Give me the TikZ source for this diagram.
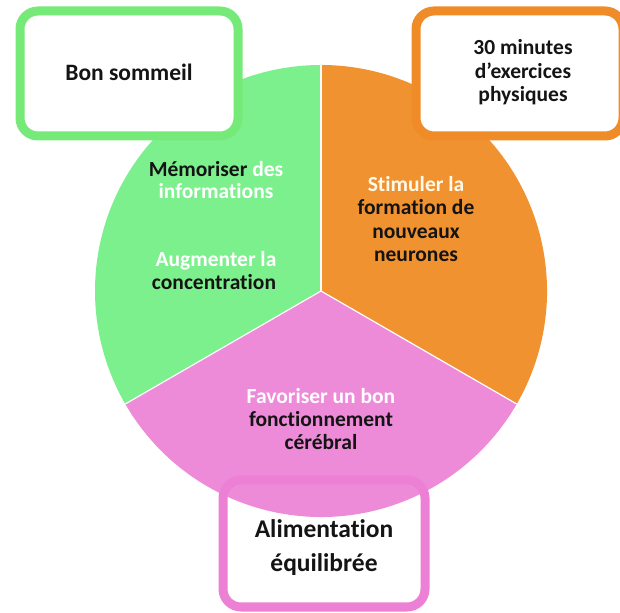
\documentclass[tikz,border=0pt]{standalone}
\usepackage{fontspec}
\setmainfont{Carlito}[Ligatures=NoCommon]
\definecolor{pgreen}{RGB}{125,240,142}
\definecolor{porange}{RGB}{240,146,48}
\definecolor{ppink}{RGB}{238,139,217}
\definecolor{bgreen}{RGB}{118,234,120}
\definecolor{borange}{RGB}{240,140,40}
\definecolor{bpink}{RGB}{236,128,212}
\definecolor{ink}{RGB}{20,20,20}
\definecolor{cream}{RGB}{255,250,235}
\begin{document}
\begin{tikzpicture}[x=1pt,y=1pt,
  txt/.style={anchor=base, inner sep=0pt, text=ink,
    font=\fontsize{21.5}{26}\selectfont\bfseries},
  bigtxt/.style={txt, font=\fontsize{23.5}{28}\selectfont\bfseries},
  hugetxt/.style={txt, font=\fontsize{25.5}{30}\selectfont\bfseries},
  frame/.style={rectangle, rounded corners=18pt, line width=9pt, inner sep=0pt},
  divider/.style={white, line width=1.2pt}]
\useasboundingbox (0,0) rectangle (620,612);

% three sectors of the disc
\coordinate (C) at (321,321);
\fill[pgreen]  (C) -- ++(90:226)  arc[start angle=90,  end angle=210, radius=226] -- cycle;
\fill[porange] (C) -- ++(-30:226) arc[start angle=-30, end angle=90,  radius=226] -- cycle;
\fill[ppink]   (C) -- ++(210:226) arc[start angle=210, end angle=330, radius=226] -- cycle;
\draw[divider] (C) -- ++(90:226);
\draw[divider] (C) -- ++(210:226);
\draw[divider] (C) -- ++(-30:226);

% framed labels around the disc
\node[frame, draw=bgreen, fill=white, minimum width=218pt, minimum height=125pt] (sleep) at (129,538.5) {};
\node[frame, draw=borange, fill=white, minimum width=207pt, minimum height=125pt] (sport) at (519.5,538.5) {};
\node[frame, draw=bpink, minimum width=202pt, minimum height=127pt] (food) at (324,68.5) {};

% box texts
\node[bigtxt] (sleepA) at (129,531.3) {Bon sommeil};
\node[txt] (sportA) at (523,557.7) {30 minutes};
\node[txt] (sportB) at (523,533.7) {d’exercices};
\node[txt] (sportC) at (523,510.3) {physiques};
\node[hugetxt] (foodA) at (324,74.3) {Alimentation};
\node[hugetxt] (foodB) at (324,40.3) {équilibrée};

% green sector texts
\node[txt] (g1) at (216,435.3) {Mémoriser \textcolor{white}{des}};
\node[txt, text=white] (g2) at (216,413) {informations};
\node[txt] (g3) at (216,345.3) {\textcolor{white}{Augmenter la}};
\node[txt] (g4) at (214,322) {concentration};

% orange sector texts
\node[txt, text=cream] (o1) at (416,420.3) {Stimuler la};
\node[txt] (o2) at (416,397) {formation de};
\node[txt] (o3) at (416,373.7) {nouveaux};
\node[txt] (o4) at (416,350.3) {neurones};

% pink sector texts
\node[txt, text=white] (p1) at (321,208.7) {Favoriser un bon};
\node[txt] (p2) at (321,185.3) {fonctionnement};
\node[txt] (p3) at (321,162) {cérébral};
\end{tikzpicture}
\end{document}
